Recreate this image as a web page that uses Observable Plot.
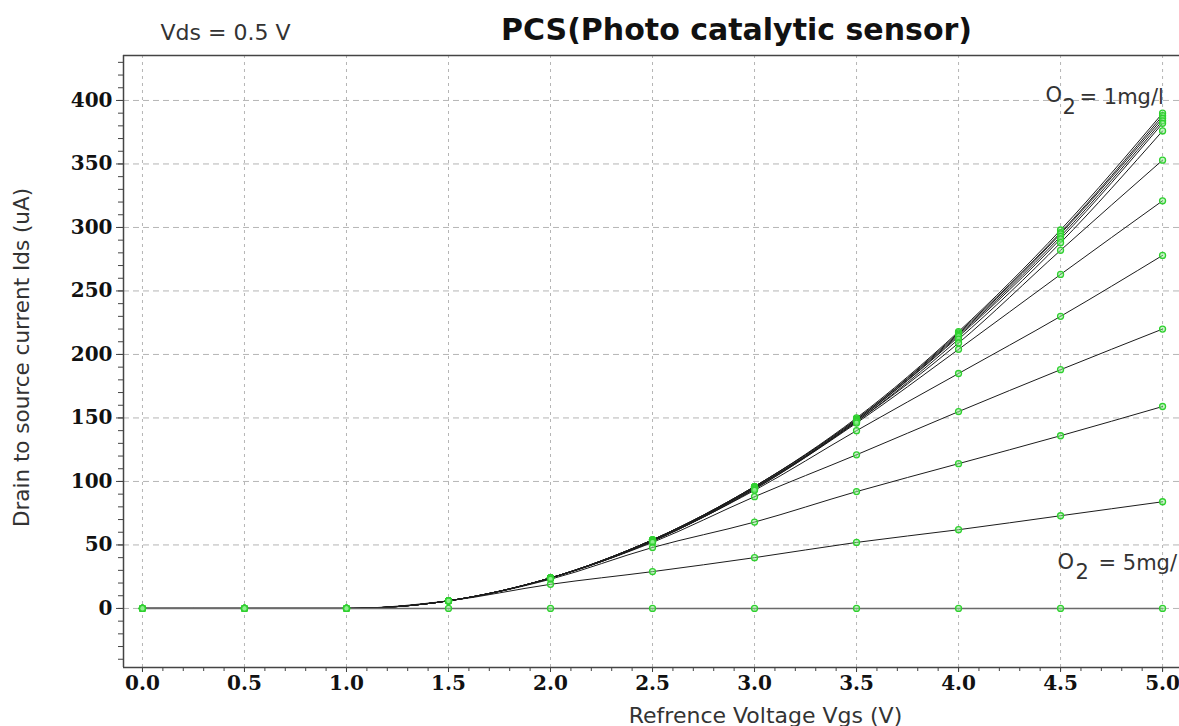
<!DOCTYPE html>
<html>
<head>
<meta charset="utf-8">
<script src="https://cdn.jsdelivr.net/npm/d3@7"></script>
<script src="https://cdn.jsdelivr.net/npm/@observablehq/plot@0.6"></script>
<style>
  body { margin: 0; background: #fff; }
  #chart svg { display: block; }
</style>
</head>
<body>
<div id="chart"></div>
<script>
// Gate voltage sample points (V)
const vgs = [0, 0.5, 1, 1.5, 2, 2.5, 3, 3.5, 4, 4.5, 5];

// Drain-to-source current (uA) for each simulated O2 condition, top to bottom
const curve1  = [0, 0, 0, 6, 24, 54, 96, 150, 218, 298, 390];
const curve2  = [0, 0, 0, 6, 24, 54, 96, 149, 217, 296, 388];
const curve3  = [0, 0, 0, 6, 24, 54, 96, 149, 216, 295, 386];
const curve4  = [0, 0, 0, 6, 24, 54, 95, 148, 215, 293, 384];
const curve5  = [0, 0, 0, 6, 24, 54, 95, 148, 214, 291, 382];
const curve6  = [0, 0, 0, 6, 24, 53, 95, 147, 212, 288, 376];
const curve7  = [0, 0, 0, 6, 24, 53, 94, 147, 209, 282, 353];
const curve8  = [0, 0, 0, 6, 24, 53, 94, 146, 204, 263, 321];
const curve9  = [0, 0, 0, 6, 24, 53, 93, 140, 185, 230, 278];
const curve10 = [0, 0, 0, 6, 24, 52, 88, 121, 155, 188, 220];
const curve11 = [0, 0, 0, 6, 23, 48, 68, 92, 114, 136, 159];
const curve12 = [0, 0, 0, 6, 19, 29, 40, 52, 62, 73, 84];
const curveZero = [0, 0, 0, 0, 0, 0, 0, 0, 0, 0, 0];

const seriesNames = ["c1", "c2", "c3", "c4", "c5", "c6", "c7", "c8", "c9", "c10", "c11", "c12", "zero"];
const seriesValues = [curve1, curve2, curve3, curve4, curve5, curve6, curve7, curve8, curve9, curve10, curve11, curve12, curveZero];

// Axis ticks and labels
const xTicks = [0, 0.5, 1, 1.5, 2, 2.5, 3, 3.5, 4, 4.5, 5];
const xTickLabels = ["0.0", "0.5", "1.0", "1.5", "2.0", "2.5", "3.0", "3.5", "4.0", "4.5", "5.0"];
const yTicks = [0, 50, 100, 150, 200, 250, 300, 350, 400];
const yTickLabels = ["0", "50", "100", "150", "200", "250", "300", "350", "400"];

const titleText = "PCS(Photo catalytic sensor)";
const vdsText = "Vds = 0.5 V";
const xLabel = "Refrence Voltage Vgs (V)";
const yLabel = "Drain to source current Ids (uA)";

const table = seriesNames.flatMap((name, k) =>
  vgs.map((v, i) => ({ series: name, vgs: v, ids: seriesValues[k][i] }))
);
const rising = table.filter(d => d.series !== "zero");
const zero = table.filter(d => d.series === "zero");

const xDomain = [-0.093, 5.083];
const yDomain = [-46.5, 435.4];
const minorX = d3.range(0, 50.5, 1).map(d => d / 10);
const minorY = d3.range(-40, 431, 10);

const tickFont = { fontFamily: "DejaVu Serif", fontWeight: "bold", fontSize: 20, fill: "#111" };
const sans = "DejaVu Sans";
const note = { fontFamily: sans, fontSize: 21, fill: "#333", textAnchor: "start", lineAnchor: "middle" };

const chart = Plot.plot({
  width: 1179,
  height: 726,
  marginLeft: 123,
  marginRight: 0,
  marginTop: 55,
  marginBottom: 59,
  style: { background: "#fff", overflow: "visible" },
  x: { domain: xDomain, label: null },
  y: { domain: yDomain, label: null },
  marks: [
    Plot.gridX(xTicks, { stroke: "#b5b5b5", strokeOpacity: 1, strokeDasharray: "3,4" }),
    Plot.gridY(yTicks, { stroke: "#b5b5b5", strokeOpacity: 1, strokeDasharray: "6,4" }),

    Plot.axisX(minorX, { anchor: "bottom", tickSize: 4, text: null, stroke: "#444", label: null }),
    Plot.axisX(xTicks, {
      anchor: "bottom", tickSize: 5, tickPadding: 3, stroke: "#444", label: null,
      tickFormat: d => xTickLabels[xTicks.indexOf(d)], ...tickFont
    }),
    Plot.axisY(minorY, { anchor: "left", tickSize: 5, text: null, stroke: "#444", label: null }),
    Plot.axisY(yTicks, {
      anchor: "left", tickSize: 7, tickPadding: 4, stroke: "#444", label: null,
      tickFormat: d => yTickLabels[yTicks.indexOf(d)], ...tickFont
    }),

    Plot.ruleX([xDomain[0]], { stroke: "#444", strokeWidth: 1.5 }),
    Plot.ruleY([yDomain[0], yDomain[1]], { stroke: "#444", strokeWidth: 1.5 }),

    Plot.line(rising, { x: "vgs", y: "ids", z: "series", stroke: "#1c1c1c", strokeWidth: 1, curve: "monotone-x" }),
    Plot.line(zero, { x: "vgs", y: "ids", stroke: "#6a6a6a", strokeWidth: 1.6 }),
    Plot.dot(table, { x: "vgs", y: "ids", r: 3, stroke: "#2fd02f", strokeWidth: 1.3, fill: "#8ef08e", fillOpacity: 0.5 }),

    // Header texts
    Plot.text([titleText], { frameAnchor: "top", dx: 85, dy: -25, textAnchor: "middle", lineAnchor: "middle", fontFamily: sans, fontWeight: "bold", fontSize: 30, fill: "#111" }),
    Plot.text([vdsText], { frameAnchor: "top-left", dx: 37, dy: -23, ...note, fontSize: 22 }),

    // Axis titles
    Plot.text([xLabel], { frameAnchor: "bottom", dx: 114, dy: 48, textAnchor: "middle", lineAnchor: "middle", fontFamily: sans, fontSize: 22, fill: "#333" }),
    Plot.text([yLabel], { frameAnchor: "left", dx: -101, dy: -4, rotate: -90, textAnchor: "middle", lineAnchor: "middle", fontFamily: sans, fontSize: 21.5, fill: "#333" }),

    // O2 annotations
    Plot.text(["O"], { frameAnchor: "top-right", dx: -134, dy: 40, ...note }),
    Plot.text(["2"], { frameAnchor: "top-right", dx: -117, dy: 52, ...note }),
    Plot.text(["= 1mg/l"], { frameAnchor: "top-right", dx: -100, dy: 42, ...note }),

    Plot.text(["O"], { frameAnchor: "bottom-right", dx: -122, dy: -105, ...note }),
    Plot.text(["2"], { frameAnchor: "bottom-right", dx: -104, dy: -95, ...note }),
    Plot.text(["= 5mg/"], { frameAnchor: "bottom-right", dx: -81, dy: -104, ...note })
  ]
});

document.getElementById("chart").appendChild(chart);
</script>
</body>
</html>
